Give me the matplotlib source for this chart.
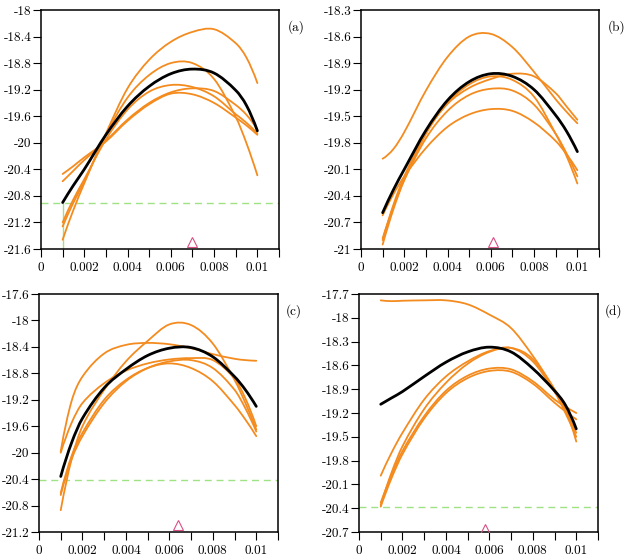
import matplotlib
matplotlib.use('Agg')
import matplotlib.pyplot as plt
from matplotlib.path import Path
from matplotlib.patches import PathPatch

plt.rcParams['font.family'] = ['cmr10', 'DejaVu Serif']
plt.rcParams['axes.unicode_minus'] = False

# common abscissa of all curves
x = [0.001, 0.0015, 0.002, 0.003, 0.004, 0.005, 0.006, 0.007, 0.008, 0.009, 0.0095, 0.010]

# panel (a)
a_black = [-20.90, -20.64, -20.40, -19.88, -19.45, -19.15, -18.96, -18.89, -18.95, -19.21, -19.44, -19.82]
a_orange = [
    [-21.46, -21.01, -20.61, -19.86, -19.18, -18.75, -18.48, -18.33, -18.29, -18.50, -18.72, -19.10],
    [-21.26, -20.90, -20.58, -19.88, -19.32, -18.98, -18.80, -18.80, -19.04, -19.61, -20.01, -20.49],
    [-21.20, -20.85, -20.55, -19.95, -19.50, -19.23, -19.13, -19.16, -19.30, -19.57, -19.70, -19.86],
    [-20.58, -20.42, -20.26, -19.97, -19.65, -19.40, -19.24, -19.18, -19.22, -19.43, -19.58, -19.80],
    [-20.47, -20.35, -20.22, -19.98, -19.67, -19.42, -19.26, -19.27, -19.40, -19.62, -19.74, -19.88],
]
a_hline = -20.9
a_mark = (0.0070, -21.50)
a_yticks = [-21.6, -21.2, -20.8, -20.4, -20.0, -19.6, -19.2, -18.8, -18.4, -18.0]

# panel (b)
b_black = [-20.59, -20.33, -20.10, -19.66, -19.32, -19.11, -19.02, -19.05, -19.20, -19.49, -19.67, -19.90]
b_orange = [
    [-19.98, -19.87, -19.68, -19.21, -18.83, -18.60, -18.57, -18.72, -19.00, -19.31, -19.45, -19.58],
    [-20.90, -20.50, -20.18, -19.68, -19.36, -19.18, -19.08, -19.02, -19.05, -19.24, -19.39, -19.54],
    [-20.95, -20.55, -20.22, -19.70, -19.35, -19.14, -19.05, -19.09, -19.28, -19.70, -19.95, -20.26],
    [-20.88, -20.52, -20.22, -19.75, -19.44, -19.26, -19.19, -19.21, -19.37, -19.70, -19.92, -20.18],
    [-20.62, -20.38, -20.18, -19.86, -19.62, -19.48, -19.42, -19.44, -19.57, -19.78, -19.93, -20.11],
]
b_hline = None
b_mark = (0.0061, -20.92)
b_yticks = [-21.0, -20.7, -20.4, -20.1, -19.8, -19.5, -19.2, -18.9, -18.6, -18.3]

# panel (c)
c_black = [-20.36, -19.85, -19.48, -19.02, -18.74, -18.53, -18.42, -18.41, -18.55, -18.85, -19.05, -19.30]
c_orange = [
    [-19.98, -19.22, -18.85, -18.50, -18.37, -18.34, -18.36, -18.42, -18.51, -18.58, -18.60, -18.61],
    [-20.00, -19.55, -19.25, -18.95, -18.76, -18.65, -18.59, -18.57, -18.60, -18.88, -19.18, -19.60],
    [-20.87, -20.10, -19.60, -19.05, -18.62, -18.31, -18.06, -18.07, -18.35, -18.90, -19.25, -19.65],
    [-20.61, -20.05, -19.70, -19.20, -18.90, -18.72, -18.65, -18.72, -18.92, -19.28, -19.50, -19.75],
    [-20.64, -20.10, -19.75, -19.25, -18.92, -18.72, -18.62, -18.60, -18.72, -19.05, -19.33, -19.68],
]
c_hline = -20.41
c_mark = (0.0064, -21.10)
c_yticks = [-21.2, -20.8, -20.4, -20.0, -19.6, -19.2, -18.8, -18.4, -18.0, -17.6]

# panel (d)
d_black = [-19.09, -19.01, -18.93, -18.74, -18.56, -18.43, -18.37, -18.43, -18.64, -18.92, -19.10, -19.40]
d_orange = [
    [-17.78, -17.79, -17.785, -17.78, -17.78, -17.83, -17.96, -18.13, -18.48, -18.90, -19.15, -19.56],
    [-19.99, -19.70, -19.45, -19.03, -18.74, -18.55, -18.42, -18.38, -18.55, -18.93, -19.17, -19.45],
    [-20.36, -19.95, -19.62, -19.15, -18.82, -18.58, -18.43, -18.38, -18.52, -18.93, -19.20, -19.50],
    [-20.33, -19.98, -19.68, -19.24, -18.92, -18.73, -18.64, -18.65, -18.80, -19.03, -19.12, -19.20],
    [-20.38, -20.02, -19.72, -19.27, -18.95, -18.76, -18.67, -18.68, -18.83, -19.07, -19.18, -19.28],
]
d_hline = -20.38
d_mark = (0.0058, -20.66)
d_yticks = [-20.7, -20.4, -20.1, -19.8, -19.5, -19.2, -18.9, -18.6, -18.3, -18.0, -17.7]

xticks = [0.001 * i for i in range(12)]
xlabels = ['0', '', '0.002', '', '0.004', '', '0.006', '', '0.008', '', '0.01', '']

ORANGE = '#f48b1f'
GREEN = '#9fe283'
PINK = '#d94f86'


def smooth_line(ax, xs, ys, **kw):
    # cubic Hermite (Bezier) path through the read points, drawn in data coords
    n = len(xs)
    d = [(ys[i + 1] - ys[i]) / (xs[i + 1] - xs[i]) for i in range(n - 1)]
    m = [0.0] * n
    for i in range(1, n - 1):
        m[i] = (ys[i + 1] - ys[i - 1]) / (xs[i + 1] - xs[i - 1])
    m[0] = 2 * d[0] - m[1]
    m[-1] = 2 * d[-1] - m[-2]
    verts = [(xs[0], ys[0])]
    codes = [Path.MOVETO]
    for i in range(n - 1):
        h = (xs[i + 1] - xs[i]) / 3
        verts += [(xs[i] + h, ys[i] + h * m[i]),
                  (xs[i + 1] - h, ys[i + 1] - h * m[i + 1]),
                  (xs[i + 1], ys[i + 1])]
        codes += [Path.CURVE4] * 3
    ax.add_patch(PathPatch(Path(verts, codes), fill=False, capstyle='round',
                           joinstyle='round', **kw))


W, H = 631, 555
fig = plt.figure(figsize=(W / 100, H / 100), dpi=100)

panels = [
    ('(a)', [41, 10, 238, 239], a_black, a_orange, a_hline, a_mark, a_yticks, (296, 27)),
    ('(b)', [361, 10, 238, 239], b_black, b_orange, b_hline, b_mark, b_yticks, (617, 27)),
    ('(c)', [39, 294, 239, 238], c_black, c_orange, c_hline, c_mark, c_yticks, (294, 311)),
    ('(d)', [359, 294, 239, 238], d_black, d_orange, d_hline, d_mark, d_yticks, (614, 311)),
]

for tag, (px, py, pw, ph), black, orange, hline, mark, yticks, (tx, ty) in panels:
    ax = fig.add_axes([px / W, 1 - (py + ph) / H, pw / W, ph / H])
    if hline is not None:
        ax.axhline(hline, color=GREEN, lw=1.0, ls=(0, (5, 3.5)), zorder=1)
    if tag == '(a)':
        ax.plot([x[0], x[0]], [hline, yticks[0]], color=GREEN, lw=1.0, zorder=1)
    for ys in orange:
        smooth_line(ax, x, ys, edgecolor=ORANGE, lw=1.3, zorder=2)
    smooth_line(ax, x, black, edgecolor='black', lw=2.0, zorder=3)
    ax.plot([mark[0]], [mark[1]], marker='^', ms=7, mfc='none', mec=PINK, mew=0.8,
            ls='none', zorder=4)
    ax.set_xlim(0, 0.011)
    ax.set_ylim(yticks[0], yticks[-1])
    ax.set_xticks(xticks, xlabels)
    ax.set_yticks(yticks, ['%g' % v for v in yticks])
    ax.tick_params(direction='out', length=5.5, width=0.8, labelsize=9.5)
    ax.tick_params(axis='x', pad=4)
    ax.tick_params(axis='y', pad=1.5)
    for s in ax.spines.values():
        s.set_linewidth(1.1)
    fig.text(tx / W, 1 - ty / H, tag, ha='center', va='center', fontsize=9.5)

fig.savefig('out.png', dpi=100)
